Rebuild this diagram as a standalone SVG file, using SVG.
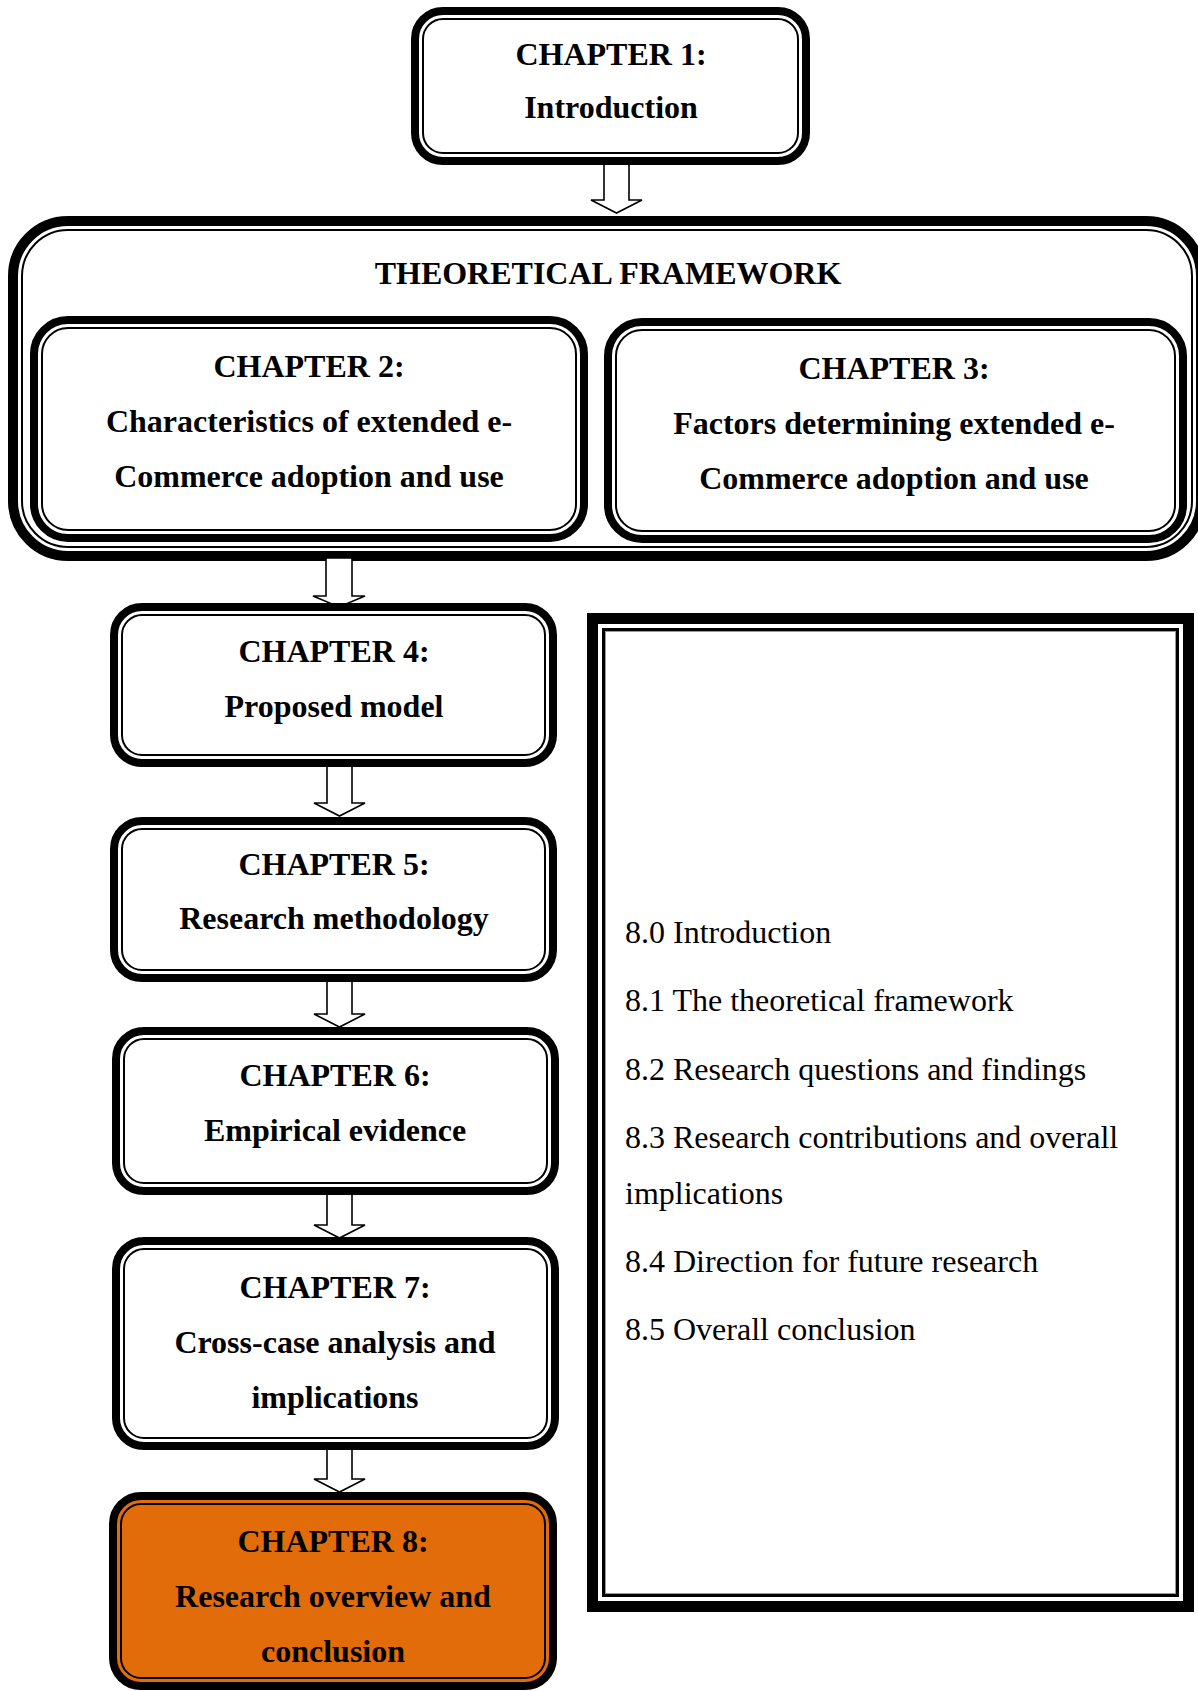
<svg xmlns="http://www.w3.org/2000/svg" width="1198" height="1691" viewBox="0 0 1198 1691">
  <style>
    .thick { fill: #ffffff; stroke: #000000; stroke-width: 8; }
    .thin { fill: none; stroke: #000000; stroke-width: 2; }
    .fw-thick { fill: #ffffff; stroke: #000000; stroke-width: 10; }
    .hot { fill: #E36C0A; }
    .arrow { fill: #ffffff; stroke: #000000; stroke-width: 1.6; stroke-linejoin: miter; }
    .title { font-family: "Liberation Serif", "Times New Roman", serif; font-weight: bold; font-size: 32px; fill: #000000; text-anchor: middle; }
    .item { font-family: "Liberation Serif", "Times New Roman", serif; font-size: 32px; fill: #000000; }
  </style>
  <rect x="0" y="0" width="1198" height="1691" fill="#ffffff"/>

  <!-- Theoretical framework container -->
  <g id="framework">
    <rect class="fw-thick" x="13" y="221" width="1188" height="335" rx="55"/>
    <rect class="thin" x="22" y="230" width="1170" height="317" rx="46"/>
    <text class="title" x="608" y="284">THEORETICAL FRAMEWORK</text>
  </g>

  <!-- Block arrows between chapters -->
  <g id="connectors">
    <path class="arrow" d="M604,163 L629,163 L629,200 L642,200 L616.5,213 L591,200 L604,200 Z"/>
    <path class="arrow" d="M326,558 L352,558 L352,596 L365,596 L339,607 L313,596 L326,596 Z"/>
    <path class="arrow" d="M327,765 L352,765 L352,803 L365,803 L339.5,816 L314,803 L327,803 Z"/>
    <path class="arrow" d="M327,979 L352,979 L352,1014 L365,1014 L339.5,1027 L314,1014 L327,1014 Z"/>
    <path class="arrow" d="M327,1192 L352,1192 L352,1225 L365,1225 L339.5,1238 L314,1225 L327,1225 Z"/>
    <path class="arrow" d="M327,1447 L352,1447 L352,1479 L365,1479 L339.5,1492 L314,1479 L327,1479 Z"/>
  </g>

  <g id="ch1">
    <rect class="thick" x="415" y="11" width="391" height="150" rx="28"/>
    <rect class="thin" x="423" y="19" width="375" height="134" rx="20"/>
    <text class="title" x="611" y="65">CHAPTER 1:</text>
    <text class="title" x="611" y="118">Introduction</text>
  </g>

  <g id="ch2">
    <rect class="thick" x="34" y="320" width="550" height="218" rx="34"/>
    <rect class="thin" x="42" y="328" width="534" height="202" rx="26"/>
    <text class="title" x="309" y="377">CHAPTER 2:</text>
    <text class="title" x="309" y="432">Characteristics of extended e-</text>
    <text class="title" x="309" y="487">Commerce adoption and use</text>
  </g>

  <g id="ch3">
    <rect class="thick" x="608" y="322" width="575" height="217" rx="34"/>
    <rect class="thin" x="616" y="330" width="559" height="201" rx="26"/>
    <text class="title" x="894" y="379">CHAPTER 3:</text>
    <text class="title" x="894" y="434">Factors determining extended e-</text>
    <text class="title" x="894" y="489">Commerce adoption and use</text>
  </g>

  <g id="ch4">
    <rect class="thick" x="114" y="607" width="439" height="156" rx="28"/>
    <rect class="thin" x="122" y="615" width="423" height="140" rx="20"/>
    <text class="title" x="334" y="662">CHAPTER 4:</text>
    <text class="title" x="334" y="717">Proposed model</text>
  </g>

  <g id="ch5">
    <rect class="thick" x="114" y="821" width="439" height="157" rx="28"/>
    <rect class="thin" x="122" y="829" width="423" height="141" rx="20"/>
    <text class="title" x="334" y="875">CHAPTER 5:</text>
    <text class="title" x="334" y="929">Research methodology</text>
  </g>

  <g id="ch6">
    <rect class="thick" x="116" y="1031" width="439" height="160" rx="28"/>
    <rect class="thin" x="124" y="1039" width="423" height="144" rx="20"/>
    <text class="title" x="335" y="1086">CHAPTER 6:</text>
    <text class="title" x="335" y="1141">Empirical evidence</text>
  </g>

  <g id="ch7">
    <rect class="thick" x="116" y="1241" width="439" height="205" rx="28"/>
    <rect class="thin" x="124" y="1249" width="423" height="189" rx="20"/>
    <text class="title" x="335" y="1298">CHAPTER 7:</text>
    <text class="title" x="335" y="1353">Cross-case analysis and</text>
    <text class="title" x="335" y="1408">implications</text>
  </g>

  <g id="ch8">
    <rect class="thick hot" x="113" y="1496" width="440" height="190" rx="28"/>
    <rect class="thin" x="121" y="1504" width="424" height="174" rx="20"/>
    <text class="title" x="333" y="1552">CHAPTER 8:</text>
    <text class="title" x="333" y="1607">Research overview and</text>
    <text class="title" x="333" y="1662">conclusion</text>
  </g>

  <!-- Chapter 8 section list -->
  <g id="ch8-sections">
    <rect x="592.5" y="618.5" width="596" height="988" fill="#ffffff" stroke="#000000" stroke-width="11"/>
    <rect x="603.5" y="629.5" width="574" height="966" fill="none" stroke="#000000" stroke-width="3"/>
    <rect x="605.5" y="631.5" width="570" height="962" fill="none" stroke="#9a9a9a" stroke-width="1"/>
    <text class="item" x="625" y="943">8.0 Introduction</text>
    <text class="item" x="625" y="1011">8.1 The theoretical framework</text>
    <text class="item" x="625" y="1080">8.2 Research questions and findings</text>
    <text class="item" x="625" y="1148">8.3 Research contributions and overall</text>
    <text class="item" x="625" y="1204">implications</text>
    <text class="item" x="625" y="1272">8.4 Direction for future research</text>
    <text class="item" x="625" y="1340">8.5 Overall conclusion</text>
  </g>
</svg>
